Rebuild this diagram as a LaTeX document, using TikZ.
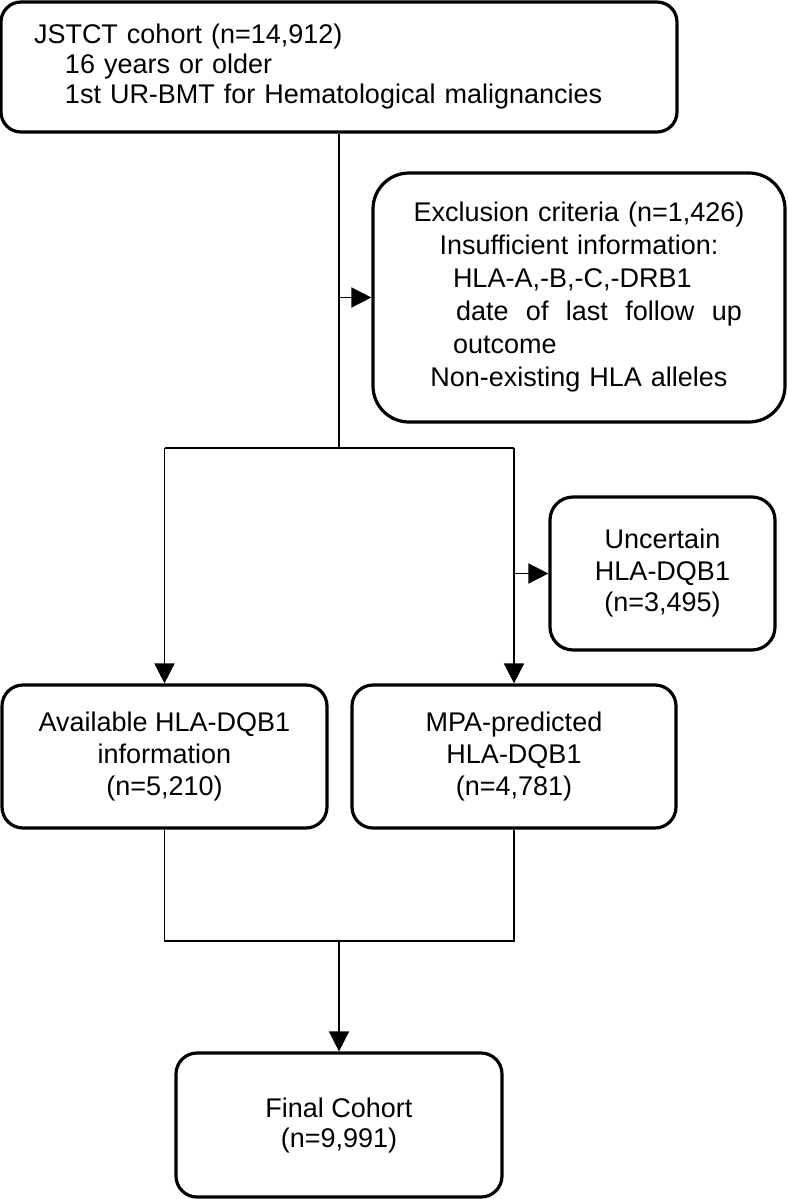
\documentclass[tikz,border=0pt]{standalone}
\usepackage{fontspec}
\setmainfont{Liberation Sans}
\usetikzlibrary{arrows.meta,positioning}

\begin{document}
\begin{tikzpicture}[x=1pt,y=-1pt,
    flowbox/.style={draw,line width=3.2pt,inner sep=0pt,align=center,font=\fontsize{27}{33}\selectfont},
    link/.style={line width=1.6pt},
    linkarr/.style={link,-{Triangle[length=20pt,width=20pt]}}]
  \useasboundingbox (0,0) rectangle (787,1199);
  % boxes
  \node[flowbox,rounded corners=20pt,minimum width=676pt,minimum height=130pt,text width=610pt,align=left,font=\fontsize{27}{30}\selectfont] (cohort) at (339,67) {JSTCT cohort (n=14,912)\\ \hspace*{31pt}16 years or older\\ \hspace*{31pt}1st UR-BMT for Hematological malignancies};
  \node[flowbox,rounded corners=36pt,minimum width=412pt,minimum height=249pt,text width=340pt] (excl) at (579,297.5) {\mbox{Exclusion criteria (n=1,426)}\\ Insufficient information:\\ \makebox[340pt][l]{\hspace*{44pt}HLA-A,-B,-C,-DRB1}\\ \makebox[340pt][l]{\hspace*{47pt}\makebox[286pt][l]{date\hfill of\hfill last\hfill follow\hfill up}}\\ \makebox[340pt][l]{\hspace*{44pt}outcome}\\ Non-existing HLA alleles};
  \node[flowbox,rounded corners=23pt,minimum width=225pt,minimum height=153pt,font=\fontsize{27}{31.5}\selectfont] (uncert) at (662.5,573.5) {Uncertain\\ HLA-DQB1\\ (n=3,495)};
  \node[flowbox,rounded corners=21pt,minimum width=325pt,minimum height=143pt,font=\fontsize{27}{32}\selectfont] (avail) at (164.5,756.5) {Available HLA-DQB1\\ information\\ (n=5,210)};
  \node[flowbox,rounded corners=21pt,minimum width=324pt,minimum height=143pt,font=\fontsize{27}{32}\selectfont] (mpa) at (514,756.5) {MPA-predicted\\ HLA-DQB1\\ (n=4,781)};
  \node[flowbox,rounded corners=21pt,minimum width=326pt,minimum height=144pt,font=\fontsize{27}{30}\selectfont] (final) at (339,1125) {Final Cohort\\ (n=9,991)};
  \coordinate (split) at (339,448);
  \coordinate (merge) at (339,941);
  % connectors
  \draw[link] (cohort.south) -- (split);
  \draw[linkarr] (excl.west -| split) -- (excl.west);
  \draw[link] (avail.north |- split) -- (mpa.north |- split);
  \draw[linkarr] (avail.north |- split) -- (avail.north);
  \draw[linkarr] (mpa.north |- split) -- (mpa.north);
  \draw[linkarr] (uncert.west -| mpa.north) -- (uncert.west);
  \draw[link] (avail.south) -- (avail.south |- merge) -- (mpa.south |- merge) -- (mpa.south);
  \draw[linkarr] (merge) -- (final.north);
\end{tikzpicture}
\end{document}
